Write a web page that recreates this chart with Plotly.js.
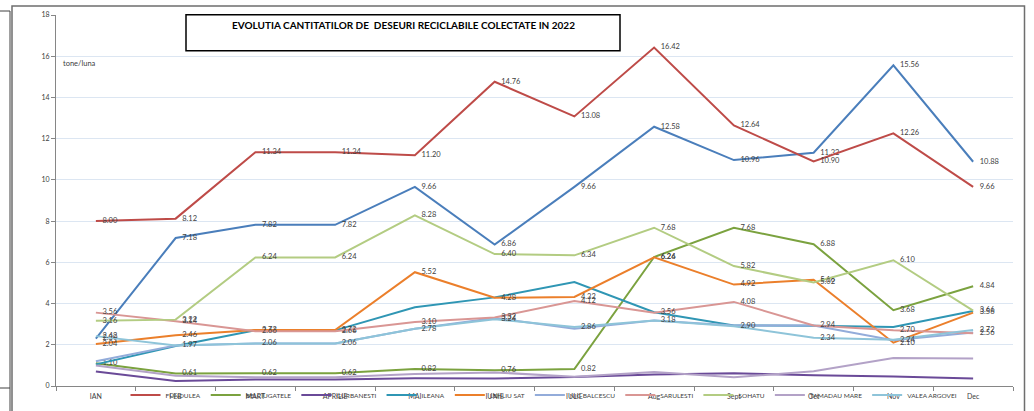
<!DOCTYPE html>
<html>
<head>
<meta charset="utf-8">
<script src="https://cdn.plot.ly/plotly-3.0.1.min.js"></script>
<style>
  html, body { margin: 0; padding: 0; background: #ffffff; }
  #chart { width: 1034px; height: 411px; }
</style>
</head>
<body>
<div id="chart"></div>
<script>
// ---- DATA ----
const months = ['IAN', 'FEB', 'MART', 'APRILIE', 'MAI', 'IUNIE', 'IULIE', 'Aug', 'Sept', 'Oct', 'Nov', 'Dec'];

const chartTitle = 'EVOLUTIA CANTITATILOR DE  DESEURI RECICLABILE COLECTATE IN 2022';
const unitLabel = 'tone/luna';

const seriesNames = ['FUNDULEA', 'BELCIUGATELE', 'GURBANESTI', 'ILEANA', 'LEHLIU SAT',
                     'NIC BALCESCU', 'SARULESTI', 'SOHATU', 'TAMADAU MARE', 'VALEA ARGOVEI'];
const unnamedSeries = 'Seria 11';

const fundulea     = [8.00, 8.12, 11.34, 11.34, 11.20, 14.76, 13.08, 16.42, 12.64, 10.90, 12.26, 9.66];
const unnamedVals  = [2.30, 7.18, 7.82, 7.82, 9.66, 6.86, 9.66, 12.58, 10.96, 11.32, 15.56, 10.88];
const belciugatele = [1.10, 0.61, 0.62, 0.62, 0.82, 0.76, 0.82, 6.26, 7.68, 6.88, 3.68, 4.84];
const gurbanesti   = [0.70, 0.24, 0.32, 0.32, 0.38, 0.36, 0.44, 0.56, 0.62, 0.52, 0.46, 0.36];
const ileana       = [1.05, 1.94, 2.70, 2.70, 3.82, 4.30, 5.04, 3.58, 2.94, 2.92, 2.86, 3.64];
const lehliuSat    = [2.04, 2.46, 2.72, 2.72, 5.52, 4.28, 4.32, 6.24, 4.92, 5.16, 2.10, 3.56];
const nicBalcescu  = [1.20, 1.97, 2.06, 2.06, 2.78, 3.30, 2.78, 3.18, 2.94, 2.94, 2.22, 2.60];
const sarulesti    = [3.56, 3.14, 2.66, 2.66, 3.10, 3.32, 4.12, 3.56, 4.08, 2.94, 2.70, 2.56];
const sohatu       = [3.16, 3.22, 6.24, 6.24, 8.28, 6.40, 6.34, 7.68, 5.82, 5.02, 6.10, 3.66];
const tamadauMare  = [1.00, 0.50, 0.42, 0.42, 0.58, 0.66, 0.45, 0.68, 0.42, 0.72, 1.36, 1.34];
const valeaArgovei = [2.42, 1.97, 2.06, 2.06, 2.78, 3.24, 2.86, 3.18, 2.90, 2.34, 2.24, 2.72];

// ---- STYLE ----
const FONT = 'Lato, "Liberation Sans", sans-serif';
const TXT = '#404040';

function trace(name, values, color, labels, showlegend) {
  const t = {
    type: 'scatter',
    x: months,
    y: values,
    name: name,
    mode: labels ? 'lines+markers+text' : 'lines',
    line: { color: color, width: 2 },
    showlegend: showlegend !== false,
    hoverinfo: 'x+y+name'
  };
  if (labels) {
    // invisible markers only to push the data labels off the points
    t.marker = { size: 9, color: 'rgba(0,0,0,0)', line: { width: 0 } };
    t.text = values.map(v => v.toFixed(2));
    t.textposition = 'middle right';
    t.textfont = { family: FONT, size: 7.5, color: TXT };
    t.cliponaxis = false;
  }
  return t;
}

const data = [
  trace(unnamedSeries, unnamedVals, '#4A7EBB', true, false),
  trace(seriesNames[0], fundulea, '#BE4B48', true),
  trace(seriesNames[1], belciugatele, '#7BA23F', true),
  trace(seriesNames[2], gurbanesti, '#6A4A98', false),
  trace(seriesNames[3], ileana, '#2F96B4', false),
  trace(seriesNames[4], lehliuSat, '#EB7F2B', true),
  trace(seriesNames[5], nicBalcescu, '#93ACDA', false),
  trace(seriesNames[6], sarulesti, '#D99694', true),
  trace(seriesNames[7], sohatu, '#B3CC82', true),
  trace(seriesNames[8], tamadauMare, '#B3A2C7', false),
  trace(seriesNames[9], valeaArgovei, '#8EC4D9', true)
];

// pixel -> paper conversion helpers for decorative frame shapes
const W = 1034, H = 411;
const M = { l: 56, r: 21, t: 15, b: 25, autoexpand: false };
const PW = W - M.l - M.r, PH = H - M.t - M.b;
const px = v => (v - M.l) / PW;
const py = v => (H - M.b - v) / PH;

const layout = {
  width: W,
  height: H,
  margin: M,
  paper_bgcolor: '#ffffff',
  plot_bgcolor: '#ffffff',
  font: { family: FONT, color: TXT, size: 7 },
  title: {
    text: '<b>' + chartTitle + '</b>',
    font: { family: FONT, size: 10, color: '#000000' },
    xref: 'container', yref: 'container',
    x: 403.5 / W, y: 1 - 25.7 / H,
    xanchor: 'center', yanchor: 'middle',
    automargin: false
  },
  xaxis: {
    type: 'category',
    range: [-0.5, 11.5],
    automargin: false,
    showgrid: false,
    showline: true,
    linecolor: '#868686',
    linewidth: 1,
    ticks: 'outside',
    tickson: 'boundaries',
    ticklen: 4,
    ticklabelstandoff: 4,
    tickcolor: '#868686',
    tickfont: { family: FONT, size: 7, color: TXT },
    fixedrange: true
  },
  yaxis: {
    range: [0, 18],
    dtick: 2,
    tick0: 0,
    automargin: false,
    showgrid: true,
    gridcolor: '#DCE6F2',
    gridwidth: 1,
    zeroline: false,
    showline: true,
    linecolor: '#868686',
    ticks: 'outside',
    ticklen: 4,
    tickcolor: '#868686',
    tickfont: { family: FONT, size: 7, color: TXT },
    fixedrange: true
  },
  legend: {
    orientation: 'h',
    xref: 'container', yref: 'container',
    x: 544 / W, y: 1 - 395 / H,
    xanchor: 'center', yanchor: 'middle',
    bgcolor: 'rgba(0,0,0,0)',
    font: { family: FONT, size: 6.5, color: TXT },
    itemwidth: 30,
    tracegroupgap: 0,
    traceorder: 'normal'
  },
  annotations: [
    {
      text: unitLabel,
      xref: 'paper', yref: 'paper',
      x: px(61), y: py(63),
      xanchor: 'left', yanchor: 'middle',
      showarrow: false,
      font: { family: FONT, size: 7.5, color: TXT }
    }
  ],
  shapes: [
    // title box
    { type: 'rect', xref: 'paper', yref: 'paper',
      x0: px(186), x1: px(620), y0: py(50.7), y1: py(14.7),
      line: { color: '#000000', width: 1.5 }, fillcolor: 'rgba(0,0,0,0)' },
    // chart frame
    { type: 'rect', xref: 'paper', yref: 'paper',
      x0: px(12), x1: px(1024.5), y0: py(425), y1: py(6),
      line: { color: '#6E6E6E', width: 1.5 }, fillcolor: 'rgba(0,0,0,0)', layer: 'below' },
    { type: 'line', xref: 'paper', yref: 'paper',
      x0: px(10), x1: px(10), y0: py(420), y1: py(11),
      line: { color: '#404040', width: 1 } },
    { type: 'line', xref: 'paper', yref: 'paper',
      x0: px(0), x1: px(10), y0: py(11), y1: py(11),
      line: { color: '#404040', width: 1 } },
    { type: 'line', xref: 'paper', yref: 'paper',
      x0: px(0), x1: px(10), y0: py(388), y1: py(388),
      line: { color: '#404040', width: 1 } }
  ]
};

Plotly.newPlot('chart', data, layout, { displayModeBar: false, staticPlot: true });
</script>
</body>
</html>
